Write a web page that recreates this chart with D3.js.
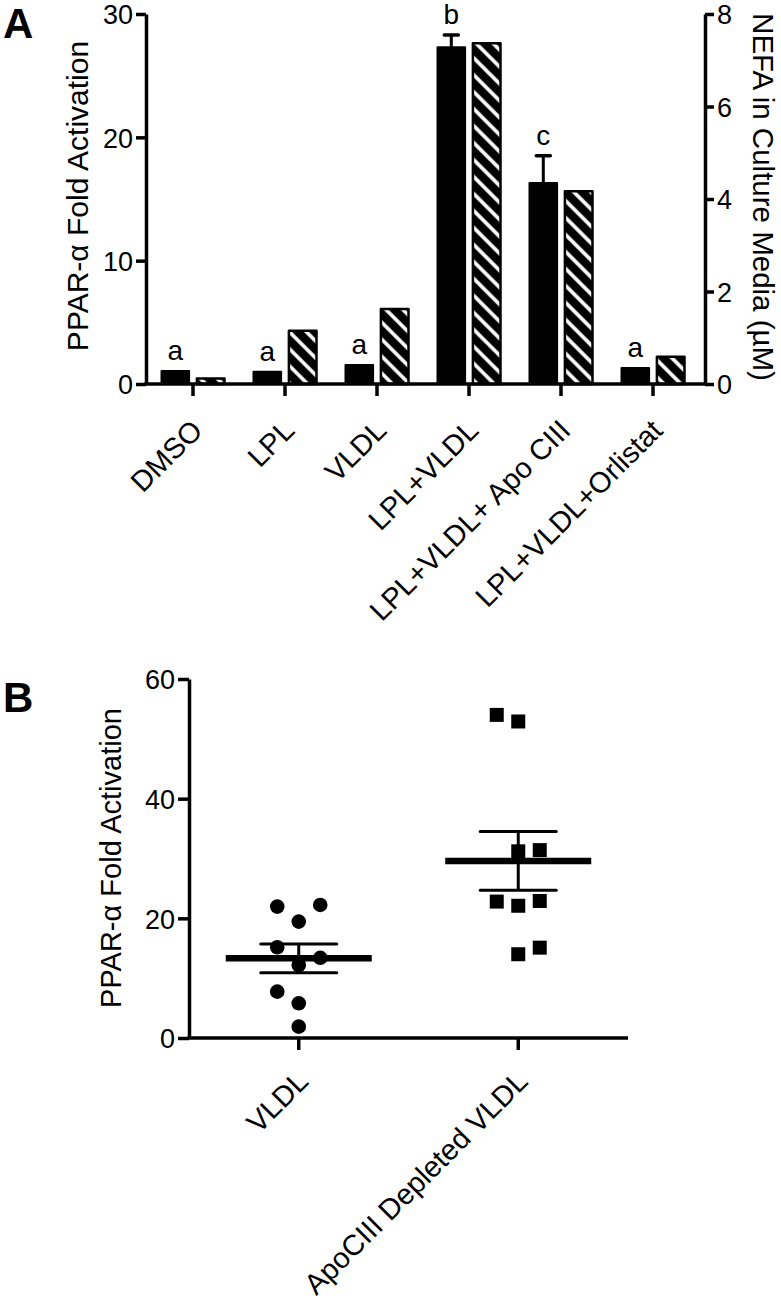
<!DOCTYPE html>
<html>
<head>
<meta charset="utf-8">
<script src="https://cdn.jsdelivr.net/npm/d3@7"></script>
<style>
  html, body { margin: 0; padding: 0; background: #fff; }
  svg { display: block; }
  text { font-family: "Liberation Sans", Arial, Helvetica, sans-serif; fill: #000; }
</style>
</head>
<body>
<svg id="chart" width="781" height="1302"></svg>
<script>
// ---------- Panel A data ----------
const categoriesA = ["DMSO", "LPL", "VLDL", "LPL+VLDL", "LPL+VLDL+ Apo CIII", "LPL+VLDL+Orlistat"];
const pparValues  = [1.05, 1.0, 1.55, 27.3, 16.3, 1.3];
const pparErrors  = [0, 0, 0, 1.0, 2.2, 0];
const nefaValues  = [0.12, 1.15, 1.62, 7.37, 4.17, 0.59];
const sigLetters  = ["a", "a", "a", "b", "c", "a"];
const leftTicksA  = [0, 10, 20, 30];
const rightTicksA = [0, 2, 4, 6, 8];

// ---------- Panel B data ----------
const groupsB = ["VLDL", "ApoCIII Depleted VLDL"];
const vldlPoints = [21.96, 22.24, 19.45, 15.17, 13.4, 12.2, 7.75, 5.8, 1.9];
const vldlSlots  = [-1, 1, 0, -1, 1, 0, -1, 0, 0];
const apoPoints  = [54.0, 52.9, 31.2, 31.4, 22.8, 22.1, 22.9, 14.0, 15.1];
const apoSlots   = [-1, 0, 0, 1, -1, 0, 1, 0, 1];
const ticksB = [0, 20, 40, 60];

const svg = d3.select("#chart");

// hatch pattern
const defs = svg.append("defs");
const pat = defs.append("pattern")
  .attr("id", "hatch").attr("patternUnits", "userSpaceOnUse")
  .attr("width", 12).attr("height", 12)
  .attr("patternTransform", "rotate(-45)");
pat.append("rect").attr("width", 12).attr("height", 12).attr("fill", "#000");
pat.append("line").attr("x1", 6).attr("y1", 0).attr("x2", 6).attr("y2", 12)
  .attr("stroke", "#fff").attr("stroke-width", 3.6);

const axisW = 3.5;
const tickFont = 27;
const catFont = 29;

// ================= PANEL A =================
const A = { left: 146, right: 705, top: 14, bottom: 384 };
const x = d3.scaleBand().domain(categoriesA).range([A.left + 1, 699]);
const xSub = d3.scaleBand().domain(["ppar", "nefa"]).range([-31.5, 31.5]).paddingInner(0.22);
const yL = d3.scaleLinear().domain([0, 30]).range([A.bottom, A.top]);
const yR = d3.scaleLinear().domain([0, 8]).range([A.bottom, A.top]);

const gA = svg.append("g");

// bars: PPAR (black)
gA.selectAll("rect.ppar").data(categoriesA).join("rect")
  .attr("class", "ppar")
  .attr("x", d => x(d) + x.bandwidth() / 2 + xSub("ppar"))
  .attr("width", xSub.bandwidth())
  .attr("y", (d, i) => yL(pparValues[i]))
  .attr("height", (d, i) => A.bottom - yL(pparValues[i]))
  .attr("fill", "#000").attr("stroke", "#000").attr("stroke-width", 2)
  .attr("stroke-linejoin", "round");

// bars: NEFA (hatched)
gA.selectAll("rect.nefa").data(categoriesA).join("rect")
  .attr("class", "nefa")
  .attr("x", d => x(d) + x.bandwidth() / 2 + xSub("nefa"))
  .attr("width", xSub.bandwidth())
  .attr("y", (d, i) => yR(nefaValues[i]))
  .attr("height", (d, i) => A.bottom - yR(nefaValues[i]))
  .attr("fill", "url(#hatch)").attr("stroke", "#000").attr("stroke-width", 2.5)
  .attr("stroke-linejoin", "round");

// error bars
categoriesA.forEach((c, i) => {
  if (pparErrors[i] <= 0) return;
  const cx = x(c) + x.bandwidth() / 2 + xSub("ppar") + xSub.bandwidth() / 2;
  gA.append("line").attr("x1", cx).attr("x2", cx)
    .attr("y1", yL(pparValues[i])).attr("y2", yL(pparValues[i] + pparErrors[i]))
    .attr("stroke", "#000").attr("stroke-width", 3);
  gA.append("line").attr("x1", cx - 7).attr("x2", cx + 7)
    .attr("y1", yL(pparValues[i] + pparErrors[i])).attr("y2", yL(pparValues[i] + pparErrors[i]))
    .attr("stroke", "#000").attr("stroke-width", 3.5).attr("stroke-linecap", "round");
});

// significance letters
gA.selectAll("text.sig").data(categoriesA).join("text")
  .attr("class", "sig")
  .attr("x", d => x(d) + x.bandwidth() / 2 + xSub("ppar") + xSub.bandwidth() / 2)
  .attr("y", (d, i) => yL(pparValues[i] + pparErrors[i]) - 11)
  .attr("text-anchor", "middle").attr("font-size", 28)
  .text((d, i) => sigLetters[i]);

// axes
function styleAxis(g, fs) {
  g.attr("font-size", fs).attr("font-family", "Liberation Sans, Arial, sans-serif");
  g.selectAll("path.domain").attr("stroke", "#000").attr("stroke-width", axisW);
  g.selectAll(".tick line").attr("stroke", "#000").attr("stroke-width", axisW);
  g.selectAll(".tick text").attr("font-size", fs).attr("fill", "#000");
}
const axL = gA.append("g").attr("transform", `translate(${A.left},0)`)
  .call(d3.axisLeft(yL).tickValues(leftTicksA).tickSize(10).tickPadding(3).tickSizeOuter(0));
styleAxis(axL, tickFont);
axL.selectAll(".tick text").attr("dy", "0.36em");

const axR = gA.append("g").attr("transform", `translate(${A.right},0)`)
  .call(d3.axisRight(yR).tickValues(rightTicksA).tickSize(9).tickPadding(3).tickSizeOuter(0));
styleAxis(axR, tickFont);
axR.selectAll(".tick text").attr("dy", "0.36em");

const axB = gA.append("g").attr("transform", `translate(0,${A.bottom})`)
  .call(d3.axisBottom(x).tickSize(12).tickSizeOuter(0));
styleAxis(axB, catFont);
axB.select("path.domain").attr("d", `M${A.left - 1.5},0H${A.right + 1.5}`);
axB.selectAll(".tick text")
  .attr("text-anchor", "end")
  .attr("transform", "translate(4,41) rotate(-45)")
  .attr("y", 0).attr("x", 0).attr("dy", "0.35em");

// titles
svg.append("text").attr("transform", "translate(88,196) rotate(-90)")
  .attr("text-anchor", "middle").attr("font-size", 30).text("PPAR-\u03b1 Fold Activation");
svg.append("text").attr("transform", "translate(753,197) rotate(90)")
  .attr("text-anchor", "middle").attr("font-size", 29.5).text("NEFA in Culture Media (\u00b5M)");
svg.append("text").attr("x", 3).attr("y", 38).attr("font-size", 42).attr("font-weight", "bold").text("A");

// ================= PANEL B =================
const B = { left: 189, right: 628, top: 679, bottom: 1038 };
const xB = d3.scaleBand().domain(groupsB).range([B.left, B.right]);
const slot = d3.scaleLinear().domain([-1, 1]).range([-21.5, 21.5]);
const yB = d3.scaleLinear().domain([0, 60]).range([B.bottom, B.top]);
const gB = svg.append("g");

function summary(vals, g, cx) {
  const m = d3.mean(vals);
  const sem = d3.deviation(vals) / Math.sqrt(vals.length);
  g.append("line").attr("x1", cx).attr("x2", cx).attr("y1", yB(m + sem)).attr("y2", yB(m - sem))
    .attr("stroke", "#000").attr("stroke-width", 3);
  [m + sem, m - sem].forEach(v => {
    g.append("line").attr("x1", cx - 38).attr("x2", cx + 38).attr("y1", yB(v)).attr("y2", yB(v))
      .attr("stroke", "#000").attr("stroke-width", 3).attr("stroke-linecap", "round");
  });
  g.append("line").attr("x1", cx - 73).attr("x2", cx + 73).attr("y1", yB(m)).attr("y2", yB(m))
    .attr("stroke", "#000").attr("stroke-width", 6.5);
}

const cx1 = xB(groupsB[0]) + xB.bandwidth() / 2;
const cx2 = xB(groupsB[1]) + xB.bandwidth() / 2;

gB.selectAll("circle.pt").data(vldlPoints).join("circle")
  .attr("class", "pt")
  .attr("cx", (d, i) => cx1 + slot(vldlSlots[i]))
  .attr("cy", d => yB(d)).attr("r", 7.3).attr("fill", "#000");
summary(vldlPoints, gB, cx1);

gB.selectAll("rect.pt").data(apoPoints).join("rect")
  .attr("class", "pt")
  .attr("x", (d, i) => cx2 + slot(apoSlots[i]) - 7)
  .attr("y", d => yB(d) - 7).attr("width", 14).attr("height", 14).attr("fill", "#000");
summary(apoPoints, gB, cx2);

const axBL = gB.append("g").attr("transform", `translate(${B.left},0)`)
  .call(d3.axisLeft(yB).tickValues(ticksB).tickSize(11).tickPadding(3).tickSizeOuter(0));
styleAxis(axBL, tickFont);
axBL.selectAll(".tick text").attr("dy", "0.36em");

const axBB = gB.append("g").attr("transform", `translate(0,${B.bottom})`)
  .call(d3.axisBottom(xB).tickSize(12).tickSizeOuter(0));
styleAxis(axBB, catFont);
axBB.select("path.domain").attr("d", `M${B.left - 1.5},0H${B.right}`);
axBB.selectAll(".tick text")
  .attr("text-anchor", "end")
  .attr("transform", "translate(4,38) rotate(-45)")
  .attr("y", 0).attr("x", 0).attr("dy", "0.35em");

svg.append("text").attr("transform", "translate(121,858) rotate(-90)")
  .attr("text-anchor", "middle").attr("font-size", 29).text("PPAR-\u03b1 Fold Activation");
svg.append("text").attr("x", 3).attr("y", 712).attr("font-size", 42).attr("font-weight", "bold").text("B");
</script>
</body>
</html>
